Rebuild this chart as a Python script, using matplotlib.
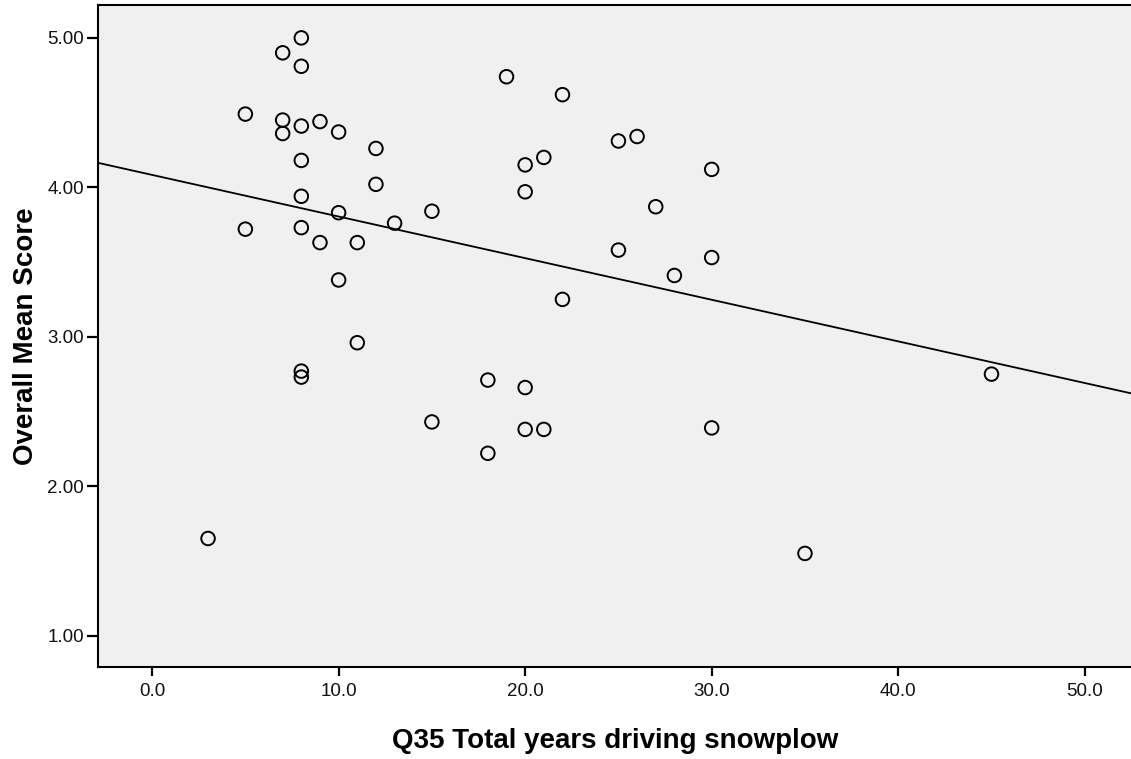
import numpy as np
import matplotlib
matplotlib.use("Agg")
import matplotlib.pyplot as plt

plt.rcParams['font.family'] = ['Liberation Sans', 'DejaVu Sans']

# Years driving a snowplow (Q35) and overall mean score per respondent
years = [3, 5, 5, 7, 7, 7, 8, 8, 8, 8, 8, 8, 8, 8,
         9, 9, 10, 10, 10, 11, 11, 12, 12, 13, 15, 15,
         18, 18, 19, 20, 20, 20, 20, 21, 21, 22, 22,
         25, 25, 26, 27, 28, 30, 30, 30, 35, 45]
score = [1.65, 4.49, 3.72, 4.90, 4.45, 4.36, 5.00, 4.81, 4.41, 4.18, 3.94, 3.73, 2.77, 2.73,
         4.44, 3.63, 4.37, 3.83, 3.38, 3.63, 2.96, 4.26, 4.02, 3.76, 3.84, 2.43,
         2.71, 2.22, 4.74, 4.15, 3.97, 2.66, 2.38, 4.20, 2.38, 4.62, 3.25,
         4.31, 3.58, 4.34, 3.87, 3.41, 4.12, 3.53, 2.39, 1.55, 2.75]

x_ticks = [0, 10, 20, 30, 40, 50]
y_ticks = [1, 2, 3, 4, 5]

fig = plt.figure(figsize=(11.31, 7.59), dpi=100)
ax = fig.add_axes([98 / 1131, 92 / 759, 1.0 - 98 / 1131 + 0.002, (667 - 5) / 759])
ax.set_facecolor('#f0f0f0')

xlim = (-2.9, 52.6)
ylim = (0.79, 5.22)

# Least-squares fit line across the full x range
slope, intercept = np.polyfit(years, score, 1)
xs = np.array(xlim)
ax.plot(xs, intercept + slope * xs, color='black', lw=1.3, zorder=2)

ax.scatter(years, score, s=95, facecolors='none', edgecolors='black',
           linewidths=1.4, zorder=3)

ax.set_xlim(*xlim)
ax.set_ylim(*ylim)
ax.set_xticks(x_ticks)
ax.set_xticklabels([f"{v:.1f}" for v in x_ticks])
ax.set_yticks(y_ticks)
ax.set_yticklabels([f"{v:.2f}" for v in y_ticks])

for side in ('left', 'bottom', 'top'):
    ax.spines[side].set_linewidth(1.5)
ax.spines['right'].set_visible(False)

ax.tick_params(axis='both', direction='out', width=1.6, color='black',
               labelsize=13.5, labelcolor='#111111')
ax.tick_params(axis='x', length=6.5, pad=5)
ax.tick_params(axis='y', length=8, pad=2)

ax.set_xlabel('Q35 Total years driving snowplow', fontsize=20, fontweight='bold', labelpad=20)
ax.set_ylabel('Overall Mean Score', fontsize=20, fontweight='bold', labelpad=6)

fig.savefig('out.png', dpi=100)
